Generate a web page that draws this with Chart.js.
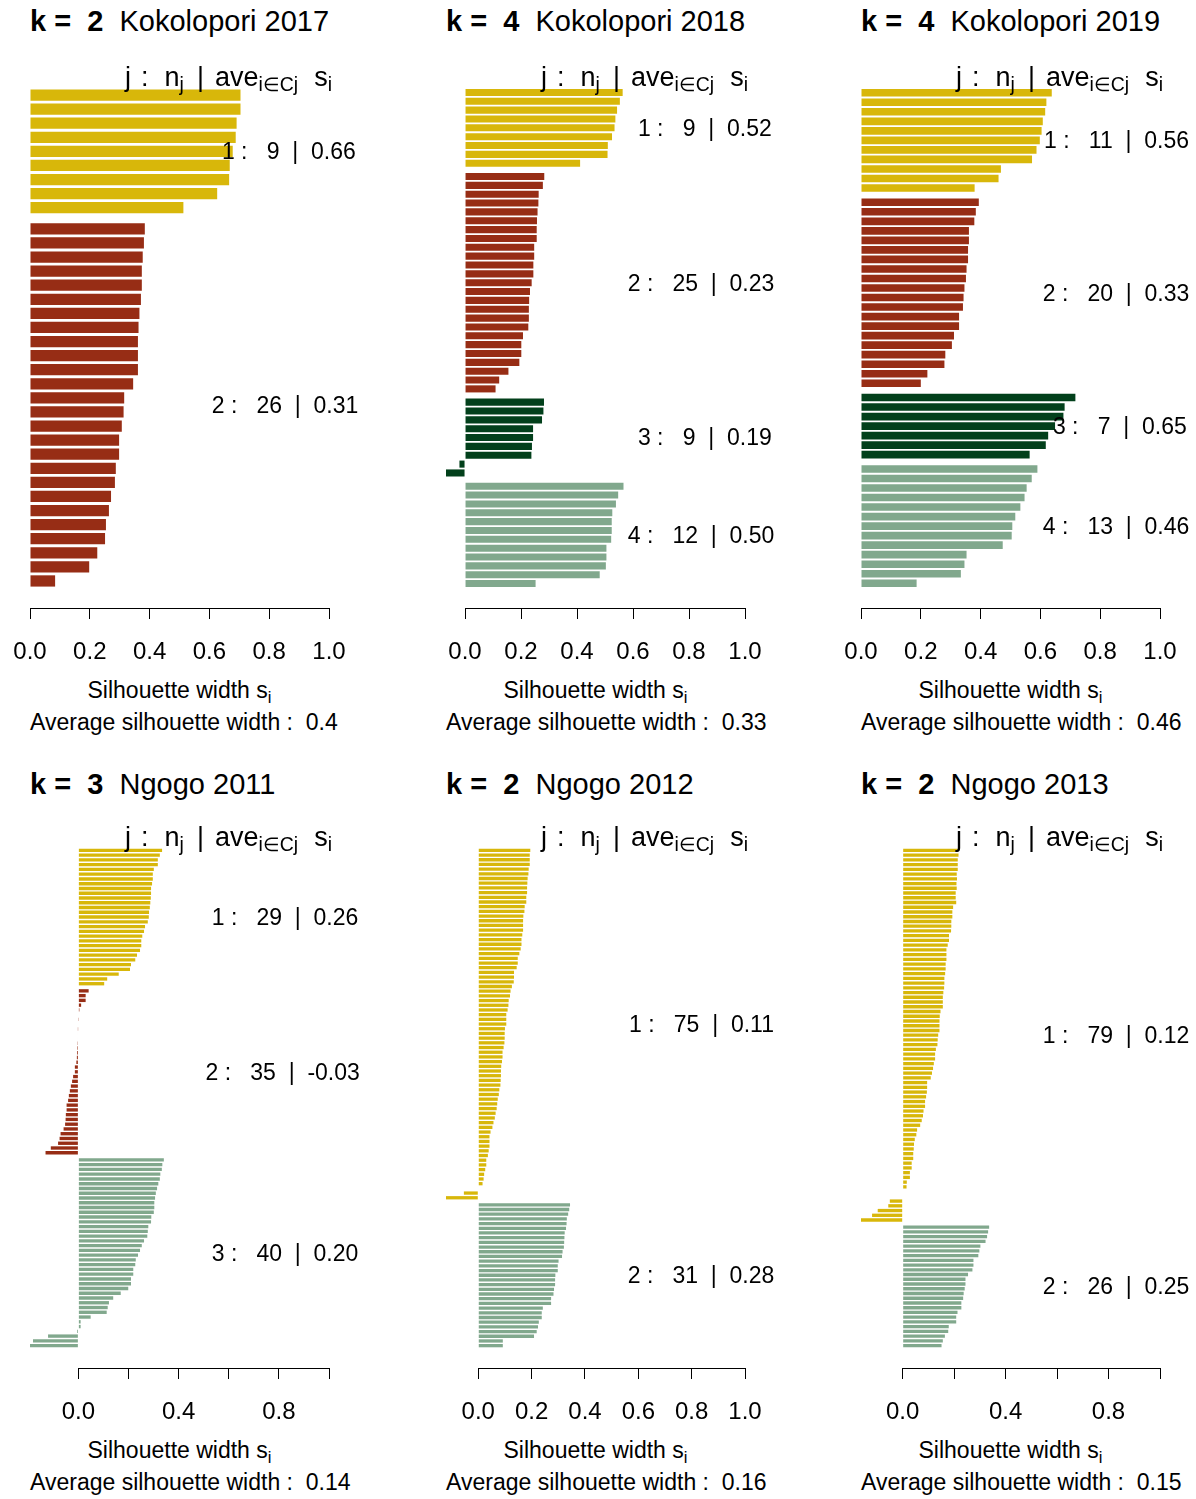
<!DOCTYPE html>
<html>
<head>
<meta charset="utf-8">
<title>Silhouette plots – Kokolopori and Ngogo</title>
<script src="https://cdn.jsdelivr.net/npm/chart.js@4.4.1/dist/chart.umd.min.js"></script>
<style>
  body { margin: 0; background: #fff; }
  #page { position: relative; width: 1196px; height: 1499px; overflow: hidden;
          font-family: "Liberation Sans", Arial, Helvetica, sans-serif; color: #000; background: #fff; }
  #page canvas { position: absolute; }
  .txt { position: absolute; white-space: pre; line-height: 1; }
  .txt sub { font-size: 0.72em; vertical-align: -0.28em; line-height: 0; }
</style>
</head>
<body>
<div id="page"></div>
<script>
// ---- silhouette widths per cluster, sorted within each cluster ----

// Kokolopori 2017
const kok17Cluster1 = [0.704, 0.704, 0.691, 0.688, 0.678, 0.668, 0.666, 0.626, 0.513];
const kok17Cluster2 = [0.384, 0.381, 0.377, 0.374, 0.374, 0.371, 0.366, 0.363, 0.361, 0.361,
                       0.361, 0.345, 0.315, 0.313, 0.307, 0.298, 0.298, 0.287, 0.284, 0.271,
                       0.264, 0.254, 0.251, 0.225, 0.198, 0.084];
const kok17ClusterAvg = ['0.66', '0.31'];

// Kokolopori 2018
const kok18Cluster1 = [0.563, 0.553, 0.543, 0.537, 0.534, 0.525, 0.510, 0.509, 0.411];
const kok18Cluster2 = [0.283, 0.278, 0.263, 0.262, 0.259, 0.257, 0.256, 0.256, 0.247, 0.247,
                       0.244, 0.244, 0.238, 0.232, 0.229, 0.228, 0.228, 0.226, 0.207, 0.201,
                       0.201, 0.194, 0.155, 0.122, 0.109];
const kok18Cluster3 = [0.282, 0.280, 0.275, 0.243, 0.243, 0.239, 0.237, -0.020, -0.068];
const kok18Cluster4 = [0.566, 0.547, 0.539, 0.526, 0.524, 0.524, 0.522, 0.505, 0.505, 0.503,
                       0.481, 0.252];
const kok18ClusterAvg = ['0.52', '0.23', '0.19', '0.50'];

// Kokolopori 2019
const kok19Cluster1 = [0.638, 0.620, 0.616, 0.608, 0.604, 0.598, 0.587, 0.572, 0.468, 0.460, 0.380];
const kok19Cluster2 = [0.394, 0.384, 0.379, 0.361, 0.361, 0.358, 0.358, 0.353, 0.351, 0.346,
                       0.343, 0.341, 0.328, 0.328, 0.311, 0.304, 0.282, 0.279, 0.222, 0.200];
const kok19Cluster3 = [0.717, 0.681, 0.677, 0.649, 0.626, 0.618, 0.564];
const kok19Cluster4 = [0.590, 0.571, 0.554, 0.547, 0.533, 0.516, 0.506, 0.504, 0.474, 0.353,
                       0.346, 0.334, 0.186];
const kok19ClusterAvg = ['0.56', '0.33', '0.65', '0.46'];

// Ngogo 2011
const ngo11Cluster1 = [0.334, 0.325, 0.317, 0.317, 0.301, 0.297, 0.297, 0.294, 0.290, 0.290,
                       0.289, 0.287, 0.285, 0.282, 0.281, 0.277, 0.266, 0.262, 0.255, 0.251,
                       0.251, 0.246, 0.234, 0.227, 0.210, 0.206, 0.161, 0.115, 0.103];
const ngo11Cluster2 = [0.041, 0.029, 0.029, 0.011, 0.004, 0.002, 0.001, 0.000, -0.001, -0.002,
                       -0.002, -0.003, -0.004, -0.005, -0.006, -0.008, -0.014, -0.014, -0.021, -0.025,
                       -0.030, -0.034, -0.038, -0.041, -0.047, -0.047, -0.050, -0.051, -0.053, -0.059,
                       -0.071, -0.075, -0.081, -0.110, -0.131];
const ngo11Cluster3 = [0.341, 0.335, 0.333, 0.327, 0.325, 0.319, 0.314, 0.309, 0.306, 0.303,
                       0.303, 0.301, 0.291, 0.290, 0.279, 0.277, 0.275, 0.262, 0.253, 0.246,
                       0.238, 0.229, 0.227, 0.219, 0.219, 0.210, 0.210, 0.199, 0.169, 0.139,
                       0.122, 0.117, 0.113, 0.049, 0.009, 0.009, -0.005, -0.121, -0.181, -0.193];
const ngo11ClusterAvg = ['0.26', '-0.03', '0.20'];

// Ngogo 2012
const ngo12Cluster1 = [0.195, 0.193, 0.193, 0.193, 0.189, 0.188, 0.185, 0.184, 0.183, 0.183,
                       0.180, 0.180, 0.174, 0.173, 0.169, 0.168, 0.168, 0.168, 0.165, 0.162,
                       0.162, 0.159, 0.154, 0.148, 0.148, 0.144, 0.134, 0.134, 0.133, 0.126,
                       0.121, 0.119, 0.114, 0.113, 0.110, 0.105, 0.105, 0.105, 0.100, 0.099,
                       0.099, 0.098, 0.095, 0.091, 0.091, 0.089, 0.086, 0.085, 0.085, 0.084,
                       0.083, 0.079, 0.077, 0.073, 0.071, 0.069, 0.065, 0.062, 0.057, 0.053,
                       0.046, 0.042, 0.042, 0.042, 0.039, 0.036, 0.030, 0.030, 0.026, 0.022,
                       0.020, 0.016, 0.000, -0.054, -0.121];
const ngo12Cluster2 = [0.344, 0.341, 0.337, 0.332, 0.331, 0.329, 0.324, 0.323, 0.322, 0.321,
                       0.316, 0.314, 0.301, 0.298, 0.298, 0.289, 0.288, 0.288, 0.284, 0.282,
                       0.273, 0.273, 0.242, 0.238, 0.238, 0.227, 0.224, 0.219, 0.209, 0.092,
                       0.092];
const ngo12ClusterAvg = ['0.11', '0.28'];

// Ngogo 2013
const ngo13Cluster1 = [0.214, 0.217, 0.214, 0.214, 0.214, 0.210, 0.211, 0.209, 0.210, 0.206,
                       0.206, 0.208, 0.196, 0.193, 0.193, 0.189, 0.189, 0.188, 0.180, 0.180,
                       0.175, 0.170, 0.170, 0.170, 0.167, 0.167, 0.165, 0.162, 0.162, 0.161,
                       0.158, 0.156, 0.156, 0.156, 0.147, 0.144, 0.143, 0.143, 0.143, 0.138,
                       0.136, 0.135, 0.129, 0.126, 0.126, 0.121, 0.118, 0.114, 0.109, 0.095,
                       0.095, 0.094, 0.091, 0.087, 0.087, 0.081, 0.079, 0.074, 0.068, 0.056,
                       0.053, 0.047, 0.044, 0.043, 0.041, 0.041, 0.035, 0.035, 0.028, 0.028,
                       0.016, 0.015, 0.000, 0.000, -0.050, -0.056, -0.097, -0.119, -0.162];
const ngo13Cluster2 = [0.336, 0.332, 0.328, 0.322, 0.302, 0.298, 0.294, 0.275, 0.275, 0.271,
                       0.254, 0.244, 0.244, 0.241, 0.237, 0.235, 0.228, 0.228, 0.213, 0.208,
                       0.208, 0.179, 0.177, 0.164, 0.156, 0.151];
const ngo13ClusterAvg = ['0.12', '0.25'];

// panel headings and overall averages
const panelTitles = ['Kokolopori 2017', 'Kokolopori 2018', 'Kokolopori 2019',
                     'Ngogo 2011', 'Ngogo 2012', 'Ngogo 2013'];
const overallAverages = ['0.4', '0.33', '0.46', '0.14', '0.16', '0.15'];

// x axis ticks
const tickValues = [0, 0.2, 0.4, 0.6, 0.8, 1.0];
const tickLabelsFull = ['0.0', '0.2', '0.4', '0.6', '0.8', '1.0'];
const tickLabelsSparse = ['0.0', '', '0.4', '', '0.8', ''];

// ---- styling ----
const FONT = '"Liberation Sans", Arial, Helvetica, sans-serif';
const GOLD = '#D8B70A', RUST = '#972D15', PINE = '#02401B', SAGE = '#81A88D';

const panels = [
  { title: panelTitles[0], clusters: [kok17Cluster1, kok17Cluster2], colors: [GOLD, RUST],
    clusterAvg: kok17ClusterAvg, avg: overallAverages[0], tickLabels: tickLabelsFull },
  { title: panelTitles[1], clusters: [kok18Cluster1, kok18Cluster2, kok18Cluster3, kok18Cluster4],
    colors: [GOLD, RUST, PINE, SAGE], clusterAvg: kok18ClusterAvg, avg: overallAverages[1], tickLabels: tickLabelsFull },
  { title: panelTitles[2], clusters: [kok19Cluster1, kok19Cluster2, kok19Cluster3, kok19Cluster4],
    colors: [GOLD, RUST, PINE, SAGE], clusterAvg: kok19ClusterAvg, avg: overallAverages[2], tickLabels: tickLabelsFull },
  { title: panelTitles[3], clusters: [ngo11Cluster1, ngo11Cluster2, ngo11Cluster3], colors: [GOLD, RUST, SAGE],
    clusterAvg: ngo11ClusterAvg, avg: overallAverages[3], tickLabels: tickLabelsSparse },
  { title: panelTitles[4], clusters: [ngo12Cluster1, ngo12Cluster2], colors: [GOLD, SAGE],
    clusterAvg: ngo12ClusterAvg, avg: overallAverages[4], tickLabels: tickLabelsFull },
  { title: panelTitles[5], clusters: [ngo13Cluster1, ngo13Cluster2], colors: [GOLD, SAGE],
    clusterAvg: ngo13ClusterAvg, avg: overallAverages[5], tickLabels: tickLabelsSparse }
];

// layout of the 3 x 2 grid of plot regions
const COL_LEFT = [30, 446, 861];
const PLOT_W = 299;
const ROW_TOP = [68, 828];
const PLOT_H = 540;
const AXIS_H = 60;
const PAD_X = 40;
const TITLE_BASE = [32, 795];

const page = document.getElementById('page');

// place a text block by its baseline; align: 'left' | 'right' | 'center' | number (fraction of width left of x)
function addText(html, x, baseline, size, align, weight) {
  const d = document.createElement('div');
  d.className = 'txt';
  d.style.fontSize = size + 'px';
  d.style.top = (baseline - 0.8465 * size) + 'px';
  if (weight) d.style.fontWeight = weight;
  d.innerHTML = html;
  if (align === 'right') {
    d.style.right = (1196 - x) + 'px';
  } else {
    d.style.left = x + 'px';
    if (align === 'center') d.style.transform = 'translateX(-50%)';
    else if (typeof align === 'number') d.style.transform = 'translateX(' + (-align * 100) + '%)';
  }
  page.appendChild(d);
  return d;
}

// the axis line only spans the tick range, as in base R graphics
const axisLinePlugin = {
  id: 'axisLine',
  afterDraw(chart) {
    const xs = chart.scales.x;
    const ctx = chart.ctx;
    const y = Math.round(chart.chartArea.bottom) + 0.5;
    ctx.save();
    ctx.strokeStyle = '#000';
    ctx.lineWidth = 1;
    ctx.beginPath();
    ctx.moveTo(xs.getPixelForValue(tickValues[0]), y);
    ctx.lineTo(xs.getPixelForValue(tickValues[tickValues.length - 1]), y);
    ctx.stroke();
    ctx.restore();
  }
};

const spacer = w => '<span style="display:inline-block;width:' + w + 'px"></span>';
const headerHtml = 'j' + spacer(10) + ':' + spacer(16) + 'n<sub>j</sub>' + spacer(13) + '|' + spacer(11) +
                   'ave<sub>i\u2208Cj</sub>' + spacer(16) + 's<sub>i</sub>';

panels.forEach((p, idx) => {
  const col = idx % 3, row = Math.floor(idx / 3);
  const plotLeft = COL_LEFT[col], plotTop = ROW_TOP[row];

  // bars: one row per observation, half a bar of space between clusters
  const points = [], colors = [], spans = [];
  let n = 0;
  p.clusters.forEach((vals, c) => {
    const first = n + 0.5 * c;
    vals.forEach(v => {
      points.push({ x: v, y: n + 0.5 * c });
      colors.push(p.colors[c]);
      n++;
    });
    spans.push([first, n - 1 + 0.5 * c]);
  });
  const U = n + 0.5 * (p.clusters.length - 1);
  const xMin = Math.min(0, ...points.map(d => d.x));
  const pitch = (PLOT_H / 1.08) / U;
  const barPct = Math.min(0.8, 1 - 1.4 / pitch);

  const canvas = document.createElement('canvas');
  const cw = PLOT_W + 2 * PAD_X, ch = PLOT_H + AXIS_H;
  canvas.width = cw; canvas.height = ch;
  canvas.style.width = cw + 'px'; canvas.style.height = ch + 'px';
  const canvasLeft = plotLeft - PAD_X, canvasTop = plotTop;
  canvas.style.left = canvasLeft + 'px';
  canvas.style.top = canvasTop + 'px';
  page.appendChild(canvas);

  const chart = new Chart(canvas, {
    type: 'bar',
    data: {
      datasets: [{
        data: points,
        backgroundColor: colors,
        borderWidth: 0,
        barPercentage: barPct,
        categoryPercentage: 1
      }]
    },
    options: {
      indexAxis: 'y',
      responsive: false,
      animation: false,
      devicePixelRatio: 1,
      layout: { padding: { left: PAD_X, right: PAD_X, top: 0, bottom: 0 } },
      plugins: { legend: { display: false }, tooltip: { enabled: false } },
      scales: {
        x: {
          type: 'linear',
          min: xMin,
          max: 1,
          afterBuildTicks: s => { s.ticks = tickValues.map(v => ({ value: v })); },
          afterFit: s => { s.height = AXIS_H; },
          grid: { drawOnChartArea: false, drawTicks: true, tickLength: 11, color: '#000', lineWidth: 1 },
          border: { display: false },
          ticks: {
            color: '#000',
            font: { family: FONT, size: 24 },
            padding: 19,
            maxRotation: 0,
            autoSkip: false,
            callback: (v, i) => p.tickLabels[i]
          }
        },
        y: {
          type: 'linear',
          reverse: true,
          display: false,
          offset: false,
          grid: { offset: false },
          min: -0.5 - 0.04 * U,
          max: U - 0.5 + 0.04 * U,
          afterBuildTicks: s => { s.ticks = [{ value: 0 }]; }
        }
      }
    },
    plugins: [axisLinePlugin]
  });

  const xs = chart.scales.x, ys = chart.scales.y, area = chart.chartArea;
  const pxLeft = canvasLeft + area.left, pxRight = canvasLeft + area.right;
  const axisY = canvasTop + area.bottom;

  // title
  addText('<b>k =  ' + p.clusters.length + '</b>  ' + p.title, pxLeft, TITLE_BASE[row], 29, 'left');
  // column header
  addText(headerHtml, pxRight + 3, plotTop + 19, 27, 'right');
  // cluster statistics
  const x1 = canvasLeft + xs.getPixelForValue(1);
  p.clusters.forEach((vals, c) => {
    const mid = canvasTop + ys.getPixelForValue((spans[c][0] + spans[c][1]) / 2);
    addText((c + 1) + ' :   ' + vals.length + '  |  ' + p.clusterAvg[c], x1, mid + 8.3, 23, 0.8);
  });
  // axis title and overall average
  addText('Silhouette width s<sub>i</sub>', (pxLeft + pxRight) / 2, axisY + 90, 23, 'center');
  addText('Average silhouette width :  ' + p.avg, pxLeft, axisY + 122, 23, 'left');
});
</script>
</body>
</html>
